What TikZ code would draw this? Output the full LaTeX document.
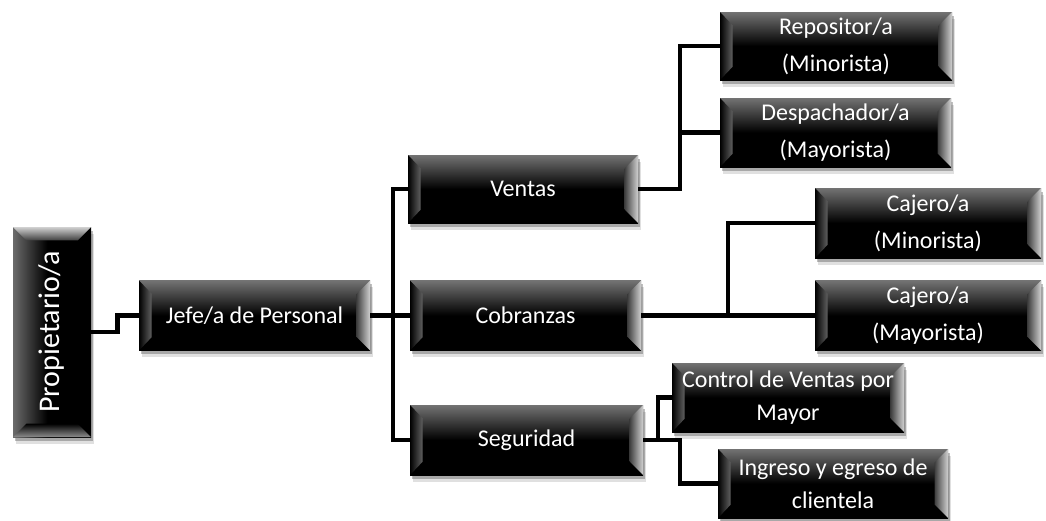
\documentclass[tikz,border=0pt]{standalone}
\usepackage{graphicx}
\usepackage{fontspec}
\setmainfont{Carlito}
\usetikzlibrary{shadows,calc}
\pgfdeclareverticalshading{bevtop}{100bp}{color(0bp)=(black); color(25bp)=(black); color(50bp)=(black); color(75bp)=(black!55); color(100bp)=(black!55)}
\pgfdeclarehorizontalshading{bevleft}{100bp}{color(0bp)=(black!58); color(25bp)=(black!58); color(47bp)=(black); color(75bp)=(black); color(100bp)=(black)}
\tikzset{
  boxshadow/.style={
    drop shadow={shadow xshift=2.5pt, shadow yshift=-5pt, fill=black, opacity=0.12},
    drop shadow={shadow xshift=1.2pt, shadow yshift=-2.8pt, fill=black, opacity=0.25}},
  sz/.style 2 args={minimum width=#1*0.75pt, minimum height=#2*0.75pt},
  orgbox/.style={rectangle, inner sep=0pt, boxshadow, shade, shading=bevtop,
    text=white, align=center, font=\fontsize{18}{27.5}\selectfont,
    path picture={
      \path (path picture bounding box.north west) coordinate (pnw)
            (path picture bounding box.north east) coordinate (pne)
            (path picture bounding box.south west) coordinate (psw)
            (path picture bounding box.south east) coordinate (pse);
      \shade[left color=black, right color=black!62]
        (pnw) -- ([shift={(9.5pt,-10pt)}]pnw) -- ([shift={(9.5pt,10pt)}]psw) -- (psw) -- cycle;
      \shade[left color=black!75, right color=black!18]
        (pne) -- ([shift={(-10pt,-10pt)}]pne) -- ([shift={(-10pt,10pt)}]pse) -- (pse) -- cycle;
    }},
  propbox/.style={rectangle, inner sep=0pt, boxshadow, shade, shading=bevleft,
    text=white, align=center, font=\fontsize{22.5}{26}\selectfont,
    path picture={
      \path (path picture bounding box.north west) coordinate (pnw)
            (path picture bounding box.north east) coordinate (pne)
            (path picture bounding box.south west) coordinate (psw)
            (path picture bounding box.south east) coordinate (pse);
      \shade[top color=black!18, bottom color=black!75]
        (pnw) -- (pne) -- ([shift={(-10pt,-10pt)}]pne) -- ([shift={(10pt,-10pt)}]pnw) -- cycle;
      \shade[top color=black, bottom color=black!45]
        (psw) -- (pse) -- ([shift={(-10pt,10pt)}]pse) -- ([shift={(10pt,10pt)}]psw) -- cycle;
    }},
  conn/.style={line width=3.7pt, black, line join=miter}
}
\begin{document}
\begin{tikzpicture}[x=0.75pt,y=-0.75pt]
\useasboundingbox (0,0) rectangle (1046,521);
% nodes
\node[propbox, sz={78}{210}] (prop) at (52,332) {\rotatebox{90}{Propietario/a}};
\node[orgbox, sz={231}{70}] (jefe) at (254.5,315.5) {Jefe/a de Personal};
\node[orgbox, sz={230}{68}] (ventas) at (523,189) {Ventas};
\node[orgbox, sz={231}{70}] (cobr) at (525.5,315.5) {Cobranzas};
\node[orgbox, sz={233}{70}] (seg) at (526.5,440) {Seguridad};
\node[orgbox, sz={232}{68}] (repo) at (836,46) {Repositor/a\\(Minorista)};
\node[orgbox, sz={231}{69}] (desp) at (835.5,132.5) {Despachador/a\\(Mayorista)};
\node[orgbox, sz={226}{70}] (cajmin) at (928,223) {Cajero/a\\(Minorista)};
\node[orgbox, sz={226}{70}] (cajmay) at (928,315.5) {Cajero/a\\(Mayorista)};
\node[orgbox, sz={232}{69}, font=\fontsize{18}{25}\selectfont] (control) at (788,397.5) {Control de Ventas por\\Mayor};
\node[orgbox, sz={230}{69}, font=\fontsize{18}{25}\selectfont] (ingreso) at (833,483.5) {Ingreso y egreso de\\clientela};
% junction columns
\coordinate (tj) at (393,0);
\coordinate (vj) at (680,0);
\coordinate (cj) at (728,0);
\coordinate (sj1) at (658,0);
\coordinate (sj2) at (680,0);
% connectors
\draw[conn] (prop.east) -- ++(26,0) |- (jefe.west);
\draw[conn] (jefe.east) -- (cobr.west);
\draw[conn] (ventas.west) -| (tj |- seg.west) -- (seg.west);
\draw[conn] (ventas.east) -| (vj |- repo.west) -- (repo.west);
\draw[conn] (vj |- desp.west) -- (desp.west);
\draw[conn] (cobr.east) -| (cj |- cajmin.west) -- (cajmin.west);
\draw[conn] (cj |- cobr.east) |- (cajmay.west);
\draw[conn] (seg.east) -| (sj1 |- control.west) -- (control.west);
\draw[conn] (seg.east -| sj1) -| (sj2 |- ingreso.west) -- (ingreso.west);
\end{tikzpicture}
\end{document}
